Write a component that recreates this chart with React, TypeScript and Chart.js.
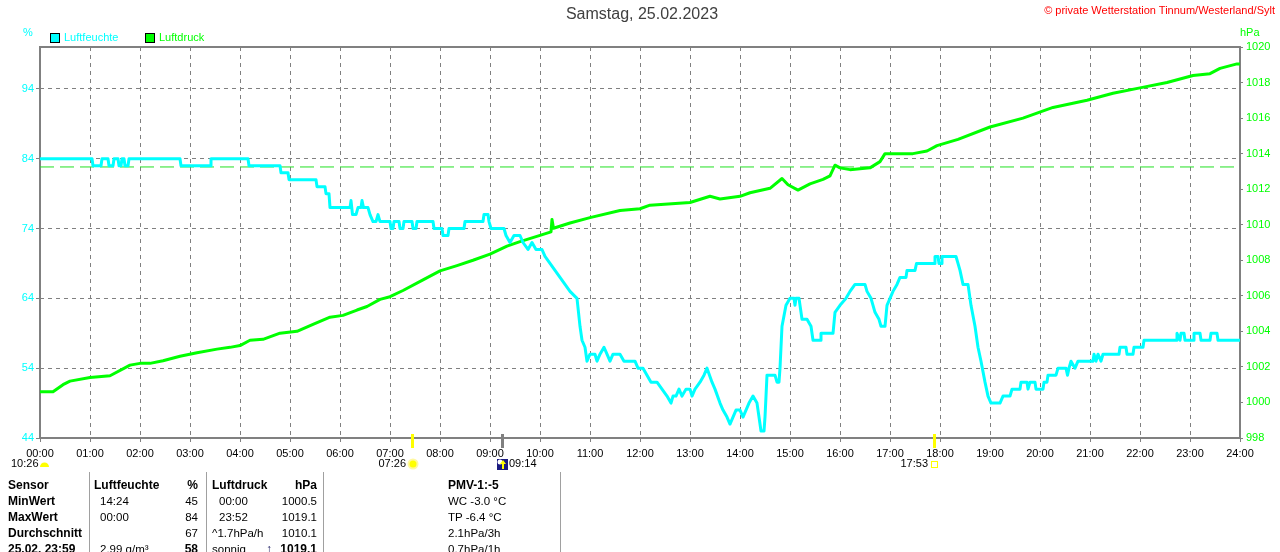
import { useEffect, useRef } from "react";
import { Chart, registerables } from "chart.js";

Chart.register(...registerables);

const FONT = "'Liberation Sans', Arial, sans-serif";
Chart.defaults.font.family = FONT;

// Stunden 0..24
const hourTicks = [0, 24];
const humTicks = [44, 54, 64, 74, 84, 94];

// Luftfeuchte (%), Zeit in Stunden
const humTime = [
  0.0, 1.04, 1.06, 1.22, 1.24, 1.36, 1.38, 1.46, 1.48, 1.56, 1.58, 1.62, 1.64, 1.68, 1.7, 1.76, 1.78, 2.8, 2.82,
  3.4, 3.42, 4.16, 4.18, 4.8, 4.82, 4.96, 4.98, 5.52, 5.54, 5.7, 5.72, 5.78, 5.8, 6.2, 6.22, 6.25, 6.32, 6.36,
  6.42, 6.44, 6.47, 6.56, 6.6, 6.66, 6.72, 6.76, 6.8, 7.0, 7.02, 7.06, 7.08, 7.18, 7.2, 7.26, 7.28, 7.44, 7.46,
  7.52, 7.54, 7.86, 7.88, 8.04, 8.06, 8.16, 8.18, 8.48, 8.5, 8.86, 8.88, 8.96, 8.98, 9.02, 9.28, 9.32, 9.4,
  9.48, 9.6, 9.66, 9.76, 9.84, 9.92, 10.04, 10.1, 10.2, 10.3, 10.4, 10.5, 10.6, 10.74, 10.8, 10.84, 10.9,
  10.94, 11.0, 11.1, 11.14, 11.2, 11.28, 11.34, 11.4, 11.46, 11.6, 11.68, 11.9, 11.96, 12.06, 12.14, 12.22,
  12.34, 12.44, 12.54, 12.62, 12.66, 12.72, 12.78, 12.84, 12.92, 13.0, 13.04, 13.1, 13.2, 13.28, 13.34,
  13.44, 13.5, 13.6, 13.66, 13.74, 13.8, 13.86, 13.92, 14.0, 14.06, 14.12, 14.18, 14.26, 14.34, 14.38,
  14.42, 14.48, 14.5, 14.54, 14.7, 14.74, 14.78, 14.8, 14.84, 14.92, 15.0, 15.08, 15.1, 15.12, 15.18, 15.22,
  15.24, 15.34, 15.42, 15.46, 15.6, 15.62, 15.86, 15.9, 16.0, 16.12, 16.2, 16.3, 16.5, 16.54, 16.62, 16.7,
  16.78, 16.82, 16.9, 16.94, 17.06, 17.14, 17.2, 17.32, 17.34, 17.5, 17.53, 17.88, 17.9, 17.96, 17.98,
  18.02, 18.04, 18.32, 18.36, 18.4, 18.46, 18.56, 18.62, 18.7, 18.76, 18.82, 18.9, 18.96, 19.02, 19.2,
  19.26, 19.4, 19.44, 19.6, 19.62, 19.74, 19.76, 19.8, 19.9, 19.92, 20.06, 20.08, 20.14, 20.16, 20.32,
  20.36, 20.52, 20.55, 20.58, 20.62, 20.7, 20.76, 21.06, 21.08, 21.12, 21.16, 21.22, 21.26, 21.58, 21.6,
  21.72, 21.74, 21.86, 21.88, 22.06, 22.08, 22.72, 22.74, 22.8, 22.82, 22.88, 22.9, 23.06, 23.08, 23.2,
  23.22, 23.4, 23.42, 23.54, 23.56, 24.0,
];
const humValue = [
  84, 84, 83, 83, 84, 84, 83, 83, 84, 84, 83, 83, 84, 84, 83, 83, 84, 84, 83,
  83, 84, 84, 83, 83, 82, 82, 81, 81, 80, 80, 79, 79, 77, 77, 78, 76, 76, 77,
  77, 78, 77, 77, 76, 75, 75, 76, 75, 75, 74, 74, 75, 75, 74, 74, 75, 75, 74,
  74, 75, 75, 74, 74, 73, 73, 74, 74, 75, 75, 76, 76, 75, 74, 74, 73, 72,
  73, 73, 72, 71, 72, 71, 71, 70, 69, 68, 67, 66, 65, 64, 60, 58, 57,
  55, 56, 56, 55, 56, 57, 56, 55, 56, 56, 55, 55, 54, 54, 53, 52,
  52, 51, 50, 49, 50, 50, 51, 50, 51, 51, 50, 51, 52, 53, 54,
  52, 51, 49, 48, 47, 46, 47, 48, 48, 47, 48, 49, 50, 49, 47,
  45, 45, 47, 53, 53, 52, 52, 54, 60, 63, 64, 64, 63, 64, 64, 62,
  61, 61, 60, 58, 58, 59, 59, 62, 63, 64, 65, 66, 66, 65, 64, 62,
  61, 60, 60, 63, 65, 66, 67, 67, 68, 68, 69, 69, 70, 70, 69,
  69, 70, 70, 69, 68, 66, 66, 63, 60, 57, 55, 52, 50, 49, 49,
  50, 50, 51, 51, 52, 52, 51, 52, 52, 51, 51, 52, 52, 53, 53,
  54, 54, 53, 54, 55, 54, 55, 55, 56, 55, 56, 55, 56, 56, 57,
  57, 56, 56, 57, 57, 58, 58, 59, 58, 59, 59, 58, 58, 59, 59,
  58, 58, 59, 59, 58, 58,
];

// Luftdruck (hPa)
const pressTime = [
  0.0, 0.26, 0.46, 0.6, 1.0, 1.4, 1.8, 2.0, 2.2, 2.46, 2.8, 3.14, 3.54, 3.8, 4.0, 4.2, 4.46, 4.8, 5.14, 5.46,
  5.8, 6.06, 6.34, 6.54, 6.8, 7.0, 7.26, 7.66, 8.0, 8.34, 8.66, 9.0, 9.34, 9.6, 10.0, 10.22, 10.24, 10.27,
  10.6, 11.0, 11.6, 12.0, 12.2, 13.0, 13.4, 13.6, 14.0, 14.2, 14.6, 14.84, 14.96, 15.16, 15.4, 15.66, 15.8,
  15.9, 16.0, 16.2, 16.6, 16.8, 16.9, 17.46, 17.74, 17.94, 18.36, 19.0, 19.66, 20.26, 20.94, 21.46, 22.0,
  22.54, 23.06, 23.4, 23.6, 23.94, 24.0,
];
const pressValue = [
  1000.6, 1000.6, 1001.0, 1001.2, 1001.4, 1001.5, 1002.1, 1002.2, 1002.2, 1002.35, 1002.6, 1002.8, 1003.0,
  1003.1, 1003.2, 1003.5, 1003.55, 1003.9, 1004.0, 1004.4, 1004.8, 1004.9, 1005.2, 1005.4, 1005.8, 1005.95,
  1006.3, 1006.9, 1007.4, 1007.7, 1008.0, 1008.35, 1008.8, 1009.05, 1009.4, 1009.6, 1010.3, 1009.8, 1010.1,
  1010.4, 1010.8, 1010.9, 1011.1, 1011.25, 1011.6, 1011.45, 1011.6, 1011.8, 1012.05, 1012.6, 1012.25,
  1011.95, 1012.3, 1012.55, 1012.75, 1013.35, 1013.2, 1013.1, 1013.2, 1013.55, 1014.0, 1014.0, 1014.15,
  1014.45, 1014.8, 1015.5, 1016.0, 1016.6, 1017.0, 1017.4, 1017.7, 1018.0, 1018.4, 1018.5, 1018.8,
  1019.05, 1019.05,
];
const normalPressure = 1013.25;

// Sonnenaufgang, Mond, Sonnenuntergang
const markerTimes = [7 + 26 / 60, 9 + 14 / 60, 17 + 53 / 60];
const markerLabels = ["07:26", "09:14", "17:53"];
const markerKinds = ["sunrise", "moon", "sunset"];
const moonLabel = "10:26";

// Tabelle
const tableLabels = ["Sensor", "MinWert", "MaxWert", "Durchschnitt", "25.02. 23:59"];
const humTimeCol = ["Luftfeuchte", "14:24", "00:00", "", "2.99 g/m³"];
const humValCol = ["%", "45", "84", "67", "58"];
const pressTimeCol = ["Luftdruck", "00:00", "23:52", "^1.7hPa/h", "sonnig"];
const pressValCol = ["hPa", "1000.5", "1019.1", "1010.1", "1019.1"];
const extraCol = ["PMV-1:-5", "WC -3.0 °C", "TP -6.4 °C", "2.1hPa/3h", "0.7hPa/1h"];

const framePlugin = {
  id: "frame",
  beforeDatasetsDraw(chart: any) {
    const { ctx, chartArea: a } = chart;
    ctx.save();
    ctx.strokeStyle = "#808080";
    ctx.lineWidth = 2;
    ctx.strokeRect(a.left, a.top, a.right - a.left, a.bottom - a.top);
    ctx.restore();
  },
};

const markerPlugin = {
  id: "markers",
  afterDraw(chart: any) {
    const { ctx, chartArea: a } = chart;
    const xs = chart.scales.x;
    ctx.save();
    ctx.font = `11px ${FONT}`;
    ctx.textBaseline = "middle";
    const ly = a.bottom + 26;
    markerTimes.forEach((t, i) => {
      const px = Math.round(xs.getPixelForValue(t));
      const kind = markerKinds[i];
      ctx.fillStyle = kind === "moon" ? "#808080" : "#ffff00";
      ctx.fillRect(px - 1, a.bottom - 4, 3, 14);
      ctx.fillStyle = "#000";
      if (kind === "moon") {
        ctx.fillStyle = "#1a1a80";
        ctx.fillRect(px - 5, ly - 5, 11, 11);
        ctx.fillStyle = "#ffffff";
        ctx.beginPath();
        ctx.arc(px - 2, ly - 2, 2.5, 0, Math.PI * 2);
        ctx.fill();
        ctx.fillStyle = "#ffff00";
        ctx.fillRect(px, ly - 1, 2, 6);
        ctx.beginPath();
        ctx.moveTo(px - 2, ly);
        ctx.lineTo(px + 1, ly - 4);
        ctx.lineTo(px + 4, ly);
        ctx.fill();
        ctx.fillStyle = "#000";
        ctx.textAlign = "left";
        ctx.fillText(markerLabels[i], px + 7, ly);
      } else if (kind === "sunrise") {
        ctx.fillStyle = "#fff8a0";
        ctx.beginPath();
        ctx.arc(px + 1, ly, 5.5, 0, Math.PI * 2);
        ctx.fill();
        ctx.fillStyle = "#ffff00";
        ctx.beginPath();
        ctx.arc(px + 1, ly, 3.5, 0, Math.PI * 2);
        ctx.fill();
        ctx.fillStyle = "#000";
        ctx.textAlign = "right";
        ctx.fillText(markerLabels[i], px - 6, ly);
      } else {
        ctx.strokeStyle = "#ffff00";
        ctx.lineWidth = 1;
        ctx.strokeRect(px - 2.5, ly - 2.5, 6, 6);
        ctx.fillStyle = "#000";
        ctx.textAlign = "right";
        ctx.fillText(markerLabels[i], px - 6, ly);
      }
    });
    ctx.textAlign = "left";
    ctx.fillStyle = "#000";
    ctx.fillText(moonLabel, 11, ly);
    ctx.fillStyle = "#ffff00";
    ctx.beginPath();
    ctx.arc(44.5, ly + 3, 4.5, Math.PI, Math.PI * 2);
    ctx.fill();
    ctx.restore();
  },
};

const cell = (text: string, left: number, top: number, bold: boolean, right?: boolean) => (
  <div
    key={`${left}-${top}-${text}`}
    style={{
      position: "absolute",
      top,
      ...(right ? { right: 1280 - left, textAlign: "right" as const } : { left }),
      fontSize: bold ? 12 : 11.5,
      fontWeight: bold ? "bold" : "normal",
      lineHeight: "16px",
      whiteSpace: "pre",
      color: "#000",
    }}
  >
    {text}
  </div>
);

export default function App() {
  const canvasRef = useRef<HTMLCanvasElement>(null);

  useEffect(() => {
    const ctx = canvasRef.current!.getContext("2d")!;
    const chart = new Chart(ctx, {
      type: "line",
      data: {
        datasets: [
          {
            label: "Luftfeuchte",
            data: humTime.map((t, i) => ({ x: t, y: humValue[i] })),
            yAxisID: "y",
            borderColor: "#00ffff",
            borderWidth: 3,
            borderJoinStyle: "round",
            borderCapStyle: "round",
            pointRadius: 0,
            tension: 0,
          },
          {
            label: "Luftdruck",
            data: pressTime.map((t, i) => ({ x: t, y: pressValue[i] })),
            yAxisID: "y1",
            borderColor: "#00ff00",
            borderWidth: 3,
            borderJoinStyle: "round",
            borderCapStyle: "round",
            pointRadius: 0,
            tension: 0,
          },
          {
            label: "Normaldruck",
            data: hourTicks.map((t) => ({ x: t, y: normalPressure })),
            yAxisID: "y1",
            borderColor: "#22e022",
            borderWidth: 1,
            borderDash: [14, 6],
            pointRadius: 0,
          },
        ],
      },
      options: {
        responsive: false,
        animation: false,
        layout: { padding: { top: 47, left: 0, right: 0, bottom: 0 } },
        plugins: {
          legend: { display: false },
          title: { display: false },
          tooltip: { enabled: false },
        },
        scales: {
          x: {
            type: "linear",
            min: 0,
            max: 24,
            afterFit: (s: any) => {
              s.height = 114;
            },
            ticks: {
              stepSize: 1,
              autoSkip: false,
              maxRotation: 0,
              color: "#000",
              font: { size: 11 },
              padding: 5,
              callback: (v: any) => `${String(v).padStart(2, "0")}:00`,
            },
            grid: { color: "#808080", lineWidth: 1, tickLength: 4, tickColor: "#808080" },
            border: { display: false, dash: [4, 4] },
          },
          y: {
            position: "left",
            min: 44,
            max: 100,
            afterFit: (s: any) => {
              s.width = 40;
            },
            afterBuildTicks: (s: any) => {
              s.ticks = humTicks.map((v) => ({ value: v }));
            },
            ticks: { color: "#00ffff", font: { size: 11 }, padding: 2 },
            grid: { color: "#808080", lineWidth: 1, tickLength: 4, tickColor: "#808080" },
            border: { display: false, dash: [4, 4] },
          },
          y1: {
            position: "right",
            min: 998,
            max: 1020,
            afterFit: (s: any) => {
              s.width = 40;
            },
            ticks: {
              stepSize: 2,
              color: "#00ff00",
              font: { size: 11 },
              padding: 3,
              callback: (v: any) => String(v),
            },
            grid: { drawOnChartArea: false, tickLength: 3, tickColor: "#808080" },
            border: { display: false },
          },
        },
      },
      plugins: [framePlugin, markerPlugin],
    } as any);

    return () => {
      chart.destroy();
    };
  }, []);

  const rowTops = [477, 493, 509, 525, 541];

  return (
    <div
      style={{
        position: "absolute",
        left: 0,
        top: 0,
        width: 1280,
        height: 552,
        overflow: "hidden",
        background: "#fff",
        fontFamily: FONT,
      }}
    >
      <canvas ref={canvasRef} width={1280} height={552} style={{ position: "absolute", left: 0, top: 0 }} />

      <div style={{ position: "absolute", left: 0, width: 1284, top: 5, textAlign: "center", fontSize: 16, color: "#404040" }}>
        Samstag, 25.02.2023
      </div>
      <div style={{ position: "absolute", right: 5, top: 4, fontSize: 11, color: "#ff0000", whiteSpace: "pre" }}>
        © private Wetterstation Tinnum/Westerland/Sylt
      </div>

      <div style={{ position: "absolute", left: 23, top: 26, fontSize: 11, color: "#00ffff" }}>%</div>
      <div style={{ position: "absolute", left: 1240, top: 26, fontSize: 11, color: "#00ff00" }}>hPa</div>

      <div style={{ position: "absolute", left: 50, top: 33, width: 8, height: 8, background: "#00ffff", border: "1px solid #000" }} />
      <div style={{ position: "absolute", left: 64, top: 31, fontSize: 11, color: "#00ffff" }}>Luftfeuchte</div>
      <div style={{ position: "absolute", left: 145, top: 33, width: 8, height: 8, background: "#00ff00", border: "1px solid #000" }} />
      <div style={{ position: "absolute", left: 159, top: 31, fontSize: 11, color: "#00ff00" }}>Luftdruck</div>

      {[89, 206, 323, 560].map((x) => (
        <div key={x} style={{ position: "absolute", left: x, top: 472, width: 1, height: 80, background: "#a0a0a0" }} />
      ))}

      {tableLabels.map((t, i) => cell(t, 8, rowTops[i], true))}
      {humTimeCol.map((t, i) => cell(t, i === 0 ? 94 : 100, rowTops[i], i === 0))}
      {humValCol.map((t, i) => cell(t, 198, rowTops[i], i === 0 || i === 4, true))}
      {pressTimeCol.map((t, i) => cell(t, i === 1 || i === 2 ? 219 : 212, rowTops[i], i === 0))}
      {pressValCol.map((t, i) => cell(t, 317, rowTops[i], i === 0 || i === 4, true))}
      {extraCol.map((t, i) => cell(t, 448, rowTops[i], i === 0))}
      <div style={{ position: "absolute", left: 266, top: rowTops[4], fontSize: 12, fontWeight: "bold", lineHeight: "16px", color: "#1a1a60" }}>
        ↑
      </div>
    </div>
  );
}
